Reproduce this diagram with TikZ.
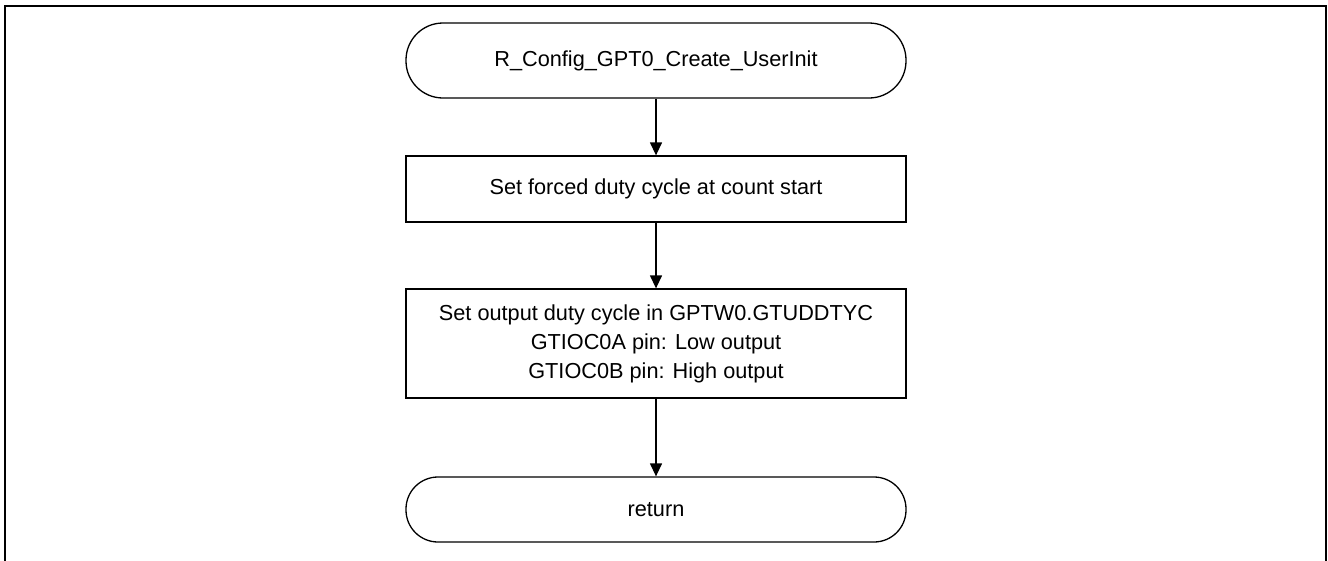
\documentclass[tikz,border=0pt]{standalone}
\usepackage{fontspec}
\setmainfont{Liberation Sans}
\usetikzlibrary{arrows.meta}
\begin{document}
\begin{tikzpicture}[x=1pt,y=-1pt,
  term/.style={draw,line width=1.3pt,minimum width=500pt,align=center,
    font=\fontsize{21.7pt}{29pt}\selectfont,inner sep=0pt},
  procbox/.style={draw,line width=1.3pt,minimum width=500pt,align=center,
    font=\fontsize{21.7pt}{29pt}\selectfont,inner sep=0pt},
  flow/.style={line width=1.3pt,-{Triangle[width=12pt,length=13pt]}}]
\useasboundingbox (0,0) rectangle (1328,560);
\draw[line width=2pt] (5,562) -- (5,6) -- (1326,6) -- (1326,562);
\node[term,minimum height=75pt,rounded corners=37pt] (start) at (656,60.5) {R\_Config\_GPT0\_Create\_UserInit};
\node[procbox,minimum height=66pt] (b1) at (656,189) {Set forced duty cycle at count start};
\node[procbox,minimum height=109pt] (b2) at (656,343.5) {Set output duty cycle in GPTW0.GTUDDTYC\\GTIOC0A pin: Low output\\GTIOC0B pin: High output};
\node[term,minimum height=65pt,rounded corners=32pt] (ret) at (656,509.5) {return};
\draw[flow] (start) -- (b1);
\draw[flow] (b1) -- (b2);
\draw[flow] (b2) -- (ret);
\end{tikzpicture}
\end{document}
